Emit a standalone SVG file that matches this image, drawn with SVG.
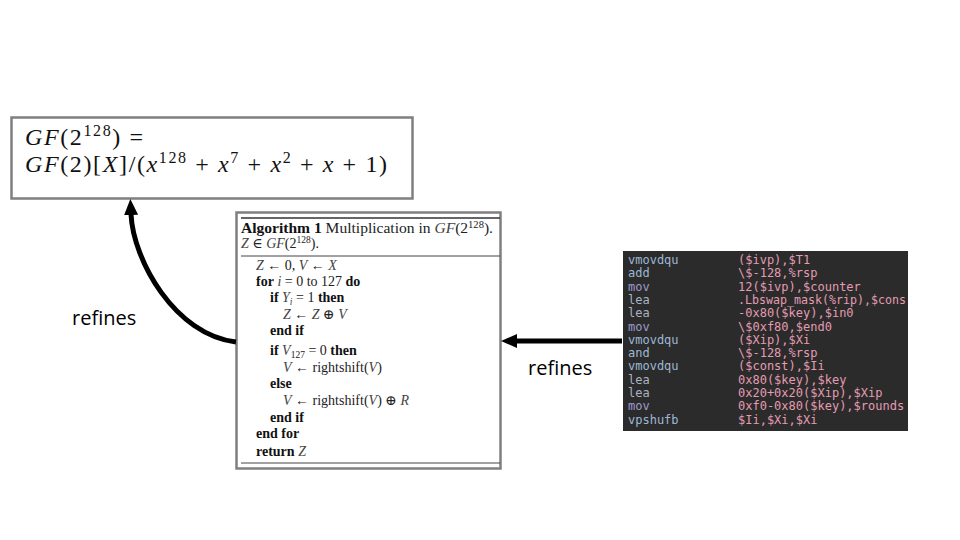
<svg xmlns="http://www.w3.org/2000/svg" width="960" height="540" viewBox="0 0 960 540">
<defs>
<style>
.box{fill:#fff;stroke:#7f7f7f;stroke-width:2.5}
.math{font-family:"Liberation Serif","DejaVu Serif",serif;font-size:24px;fill:#111}
.it{font-style:italic}
.alg{font-family:"Liberation Serif","DejaVu Serif",serif;font-size:14px;fill:#222}
.b{font-weight:bold;fill:#111}
.v{font-style:italic;fill:#444}
.rule{stroke:#444;stroke-width:1}
.code{font-family:"DejaVu Sans Mono","Liberation Mono",monospace;font-size:12px}
.mn{fill:#9db8d6}
.mv{fill:#9c9ccb}
.le{fill:#a9b3c2}
.op{fill:#e39cb2}
.lbl{font-family:"Open Sans","Liberation Sans",sans-serif;font-size:20px;fill:#000}
.arrow{fill:none;stroke:#000;stroke-width:5}
</style>
<marker id="ah" markerUnits="userSpaceOnUse" viewBox="0 0 16 14" markerWidth="16" markerHeight="14" refX="1" refY="7" orient="auto">
<path d="M0,0 L16,7 L0,14 z" fill="#000"/>
</marker>
</defs>

<g id="field-definition">
<rect class="box" x="11.5" y="117.5" width="401" height="81"/>
<text class="math" x="25" y="145" textLength="118" lengthAdjust="spacing"><tspan class="it">GF</tspan>(2<tspan font-size="16" dy="-9">128</tspan><tspan dy="9">) =</tspan></text>
<text class="math" x="25" y="172" textLength="362" lengthAdjust="spacing"><tspan class="it">GF</tspan>(2)[<tspan class="it">X</tspan>]/(<tspan class="it">x</tspan><tspan font-size="16" dy="-9">128</tspan><tspan dy="9"> + </tspan><tspan class="it">x</tspan><tspan font-size="16" dy="-9">7</tspan><tspan dy="9"> + </tspan><tspan class="it">x</tspan><tspan font-size="16" dy="-9">2</tspan><tspan dy="9"> + </tspan><tspan class="it">x</tspan> + 1)</text>
</g>

<g id="algorithm">
<rect class="box" x="236.5" y="212.5" width="264" height="256"/>
<line x1="241" y1="218" x2="500" y2="218" stroke="#333" stroke-width="1.5"/>
<text class="alg" x="241" y="233" textLength="252" lengthAdjust="spacingAndGlyphs"><tspan class="b">Algorithm 1</tspan> Multiplication in <tspan class="v">GF</tspan>(2<tspan font-size="9.5" dy="-5">128</tspan><tspan dy="5">).</tspan></text>
<text class="alg" x="241" y="248"><tspan class="v">Z</tspan> ∈ <tspan class="v">GF</tspan>(2<tspan font-size="9.5" dy="-5">128</tspan><tspan dy="5">).</tspan></text>
<line class="rule" x1="241" y1="256" x2="500" y2="256"/>
<text class="alg" x="256" y="270"><tspan class="v">Z</tspan> ← 0, <tspan class="v">V</tspan> ← <tspan class="v">X</tspan></text>
<text class="alg" x="256" y="286"><tspan class="b">for</tspan> <tspan class="v">i</tspan> = 0 to 127 <tspan class="b">do</tspan></text>
<text class="alg" x="270" y="302"><tspan class="b">if</tspan> <tspan class="v">Y</tspan><tspan font-size="9.5" dy="3" class="v">i</tspan><tspan dy="-3"> = 1 </tspan><tspan class="b">then</tspan></text>
<text class="alg" x="283" y="319"><tspan class="v">Z</tspan> ← <tspan class="v">Z</tspan> ⊕ <tspan class="v">V</tspan></text>
<text class="alg" x="270" y="335"><tspan class="b">end if</tspan></text>
<text class="alg" x="270" y="355"><tspan class="b">if</tspan> <tspan class="v">V</tspan><tspan font-size="9.5" dy="3">127</tspan><tspan dy="-3"> = 0 </tspan><tspan class="b">then</tspan></text>
<text class="alg" x="283" y="372"><tspan class="v">V</tspan> ← rightshift(<tspan class="v">V</tspan>)</text>
<text class="alg" x="270" y="388"><tspan class="b">else</tspan></text>
<text class="alg" x="283" y="405"><tspan class="v">V</tspan> ← rightshift(<tspan class="v">V</tspan>) ⊕ <tspan class="v">R</tspan></text>
<text class="alg" x="270" y="422"><tspan class="b">end if</tspan></text>
<text class="alg" x="256" y="438"><tspan class="b">end for</tspan></text>
<text class="alg" x="256" y="456"><tspan class="b">return</tspan> <tspan class="v">Z</tspan></text>
<line class="rule" x1="241" y1="463" x2="500" y2="463" stroke="#888"/>
</g>

<g id="assembly-code">
<rect x="623" y="251" width="285" height="180" fill="#2b2b2b"/>
<g class="code">
<text x="628" y="264" class="mn">vmovdqu</text><text x="738" y="264" class="op">($ivp),$T1</text>
<text x="628" y="277.3" class="mn">add</text><text x="738" y="277.3" class="op">\$-128,%rsp</text>
<text x="628" y="290.6" class="mv">mov</text><text x="738" y="290.6" class="op">12($ivp),$counter</text>
<text x="628" y="303.9" class="le">lea</text><text x="738" y="303.9" class="op" textLength="168" lengthAdjust="spacingAndGlyphs">.Lbswap_mask(%rip),$cons</text>
<text x="628" y="317.2" class="le">lea</text><text x="738" y="317.2" class="op">-0x80($key),$in0</text>
<text x="628" y="330.5" class="mv">mov</text><text x="738" y="330.5" class="op">\$0xf80,$end0</text>
<text x="628" y="343.8" class="mn">vmovdqu</text><text x="738" y="343.8" class="op">($Xip),$Xi</text>
<text x="628" y="357.1" class="mn">and</text><text x="738" y="357.1" class="op">\$-128,%rsp</text>
<text x="628" y="370.4" class="mn">vmovdqu</text><text x="738" y="370.4" class="op">($const),$Ii</text>
<text x="628" y="383.7" class="le">lea</text><text x="738" y="383.7" class="op">0x80($key),$key</text>
<text x="628" y="397" class="le">lea</text><text x="738" y="397" class="op">0x20+0x20($Xip),$Xip</text>
<text x="628" y="410.3" class="mv">mov</text><text x="738" y="410.3" class="op">0xf0-0x80($key),$rounds</text>
<text x="628" y="423.6" class="mn">vpshufb</text><text x="738" y="423.6" class="op">$Ii,$Xi,$Xi</text>
</g>
</g>

<g id="connectors">
<path class="arrow" d="M236,342 C175,335 133,260 131,214" marker-end="url(#ah)"/>
<path class="arrow" d="M622,341 L516,341" marker-end="url(#ah)"/>
<text class="lbl" x="72" y="325">refines</text>
<text class="lbl" x="528" y="375">refines</text>
</g>
</svg>
